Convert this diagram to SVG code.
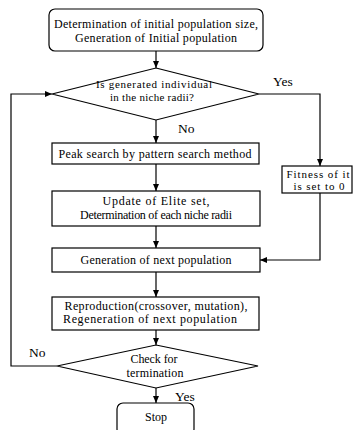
<svg xmlns="http://www.w3.org/2000/svg" width="358" height="430" viewBox="0 0 358 430">
<defs>
<marker id="ah" markerWidth="8" markerHeight="8" refX="7" refY="4" orient="auto" markerUnits="userSpaceOnUse">
<path d="M0,1 L7,4 L0,7 Z" fill="#000"/>
</marker>
<style>
.s{fill:#fff;stroke:#000;stroke-width:1.2}
.t{font-family:"Liberation Serif","Times New Roman",serif;font-size:12px;fill:#000;text-anchor:middle}
.sm{font-size:11px}
.l{font-family:"Liberation Serif","Times New Roman",serif;font-size:13.5px;fill:#000}
.c{fill:none;stroke:#000;stroke-width:1.2}
</style>
</defs>
<rect width="358" height="430" fill="#fff"/>
<g id="connectors">
<line class="c" x1="156" y1="51" x2="156" y2="68" marker-end="url(#ah)"/>
<line class="c" x1="156" y1="120" x2="156" y2="143" marker-end="url(#ah)"/>
<polyline class="c" points="259,94 320,94 320,166" marker-end="url(#ah)"/>
<line class="c" x1="156" y1="164" x2="156" y2="191" marker-end="url(#ah)"/>
<line class="c" x1="156" y1="226" x2="156" y2="248" marker-end="url(#ah)"/>
<polyline class="c" points="320,193 320,260 260,260" marker-end="url(#ah)"/>
<line class="c" x1="156" y1="272" x2="156" y2="297" marker-end="url(#ah)"/>
<line class="c" x1="156" y1="330" x2="156" y2="345" marker-end="url(#ah)"/>
<polyline class="c" points="57,366 11,366 11,94 52,94" marker-end="url(#ah)"/>
<line class="c" x1="156" y1="388" x2="156" y2="403" marker-end="url(#ah)"/>
<text class="l" x="273" y="86">Yes</text>
<text class="l" x="178" y="133">No</text>
<text class="l" x="29" y="357">No</text>
<text class="l" x="175" y="401">Yes</text>
</g>
<g id="init">
<rect class="s" x="49" y="9" width="214" height="42" rx="6"/>
<text class="t" x="156" y="28" textLength="204">Determination of initial population size,</text>
<text class="t" x="156" y="42" textLength="162">Generation of Initial population</text>
</g>
<g id="niche-check">
<polygon class="s" points="156,68 259,94 156,120 52,94"/>
<text class="t sm" x="154" y="88" textLength="116">Is generated individual</text>
<text class="t sm" x="152" y="100.5" textLength="84">in the niche radii?</text>
</g>
<g id="peak">
<rect class="s" x="52" y="143" width="207" height="21"/>
<text class="t" x="155" y="158" textLength="193">Peak search by pattern search method</text>
</g>
<g id="fitness">
<rect class="s" x="282" y="166" width="70" height="27"/>
<text class="t sm" x="318" y="177.5" textLength="63">Fitness of it</text>
<text class="t sm" x="319" y="190" textLength="51">is set to 0</text>
</g>
<g id="update">
<rect class="s" x="52" y="191" width="208" height="35"/>
<text class="t" x="156" y="205" textLength="107">Update of Elite set,</text>
<text class="t" x="156" y="219" textLength="152">Determination of each niche radii</text>
</g>
<g id="generation">
<rect class="s" x="52" y="248" width="208" height="24"/>
<text class="t" x="156" y="264" textLength="151">Generation of next population</text>
</g>
<g id="reproduction">
<rect class="s" x="52" y="297" width="207" height="33"/>
<text class="t" x="156" y="310" textLength="183">Reproduction(crossover, mutation),</text>
<text class="t" x="150" y="323" textLength="174">Regeneration  of next population</text>
</g>
<g id="termination">
<polygon class="s" points="156,345 258,366 156,388 57,366"/>
<text class="t" x="154" y="363" textLength="47">Check for</text>
<text class="t" x="155" y="377" textLength="57">termination</text>
</g>
<g id="stop">
<rect class="s" x="117" y="403" width="77" height="32" rx="6"/>
<text class="t" x="156" y="421">Stop</text>
</g>
</svg>
